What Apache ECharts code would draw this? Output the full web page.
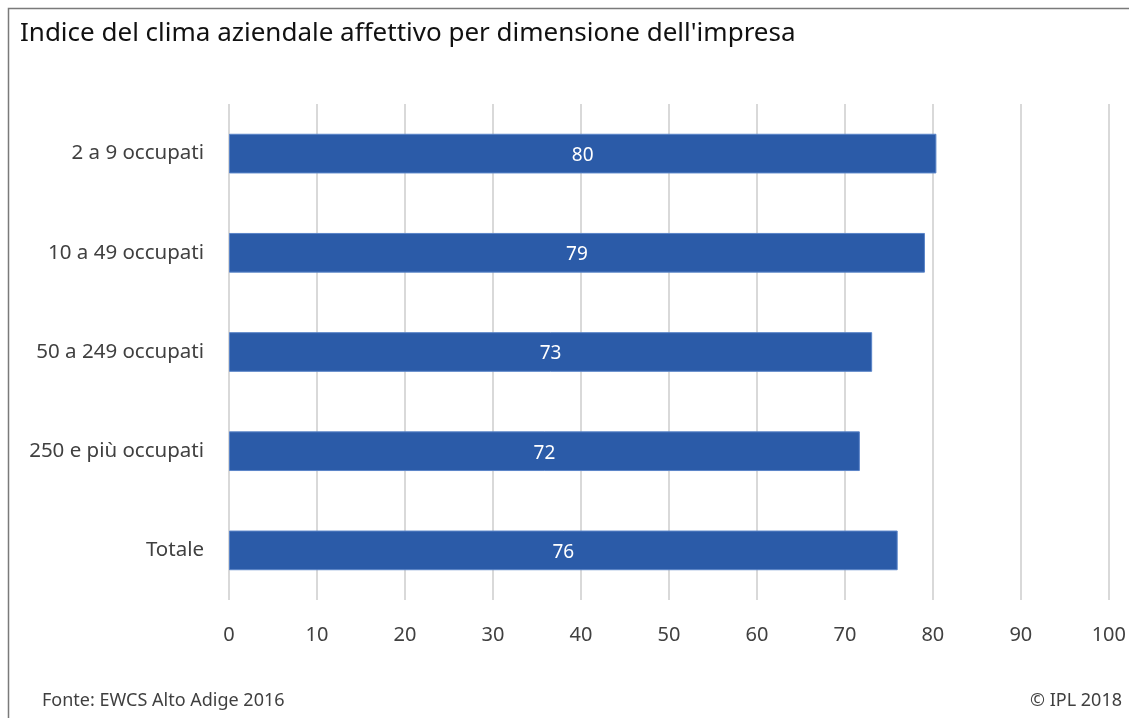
<!DOCTYPE html>
<html><head><meta charset="utf-8">
<script src="https://cdn.jsdelivr.net/npm/echarts@6/dist/echarts.min.js"></script>
<style>html,body{margin:0;padding:0;background:#fff}#c{width:1129px;height:718px}</style>
</head><body><div id="c"></div>
<script>
const categories = ['2 a 9 occupati', '10 a 49 occupati', '50 a 249 occupati', '250 e più occupati', 'Totale'];
const values = [80.4, 79.1, 73.1, 71.7, 76.0];
const xTicks = { min: 0, max: 100, interval: 10 };
const titleText = "Indice del clima aziendale affettivo per dimensione dell'impresa";
const sourceText = 'Fonte: EWCS Alto Adige 2016';
const creditText = '© IPL 2018';
const FONT = '"Source Sans Pro","Noto Sans","Open Sans",sans-serif';

const chart = echarts.init(document.getElementById('c'), null, {renderer: 'canvas'});
chart.setOption({
  animation: false,
  backgroundColor: '#fff',
  title: {
    text: titleText, left: 15, top: 16,
    textStyle: {fontFamily: FONT, fontSize: 26, fontWeight: 'normal', color: '#111'}
  },
  graphic: [
    {type: 'rect', shape: {x: 8.5, y: 8.5, width: 1200, height: 800}, style: {fill: 'none', stroke: '#7a7a7a', lineWidth: 1.5}, silent: true, z: -1},
    {type: 'text', left: 42, top: 692, style: {text: sourceText, font: '18px ' + FONT, fill: '#404040'}},
    {type: 'text', right: 7, top: 692, style: {text: creditText, font: '18px ' + FONT, fill: '#404040'}}
  ],
  grid: {left: 229, right: 20, top: 104, bottom: 118, containLabel: false},
  xAxis: {
    type: 'value', min: xTicks.min, max: xTicks.max, interval: xTicks.interval,
    axisLine: {show: false}, axisTick: {show: false},
    axisLabel: {fontFamily: FONT, fontSize: 20, color: '#404040', margin: 25},
    splitLine: {show: true, lineStyle: {color: '#d9d9d9', width: 2}}
  },
  yAxis: {
    type: 'category', data: categories, inverse: true,
    axisLine: {show: false}, axisTick: {show: false},
    axisLabel: {fontFamily: FONT, fontSize: 20.5, color: '#404040', margin: 25, padding: [8, 0, 0, 0]}
  },
  series: [{
    type: 'bar', data: values, barWidth: '40%',
    itemStyle: {color: '#2B5BA8', borderColor: '#5a84c8', borderWidth: 1},
    label: {show: true, position: 'inside', color: '#fff', fontFamily: FONT, fontSize: 19, offset: [0, 2],
      formatter: p => String(Math.round(p.value))}
  }]
});
</script></body></html>
